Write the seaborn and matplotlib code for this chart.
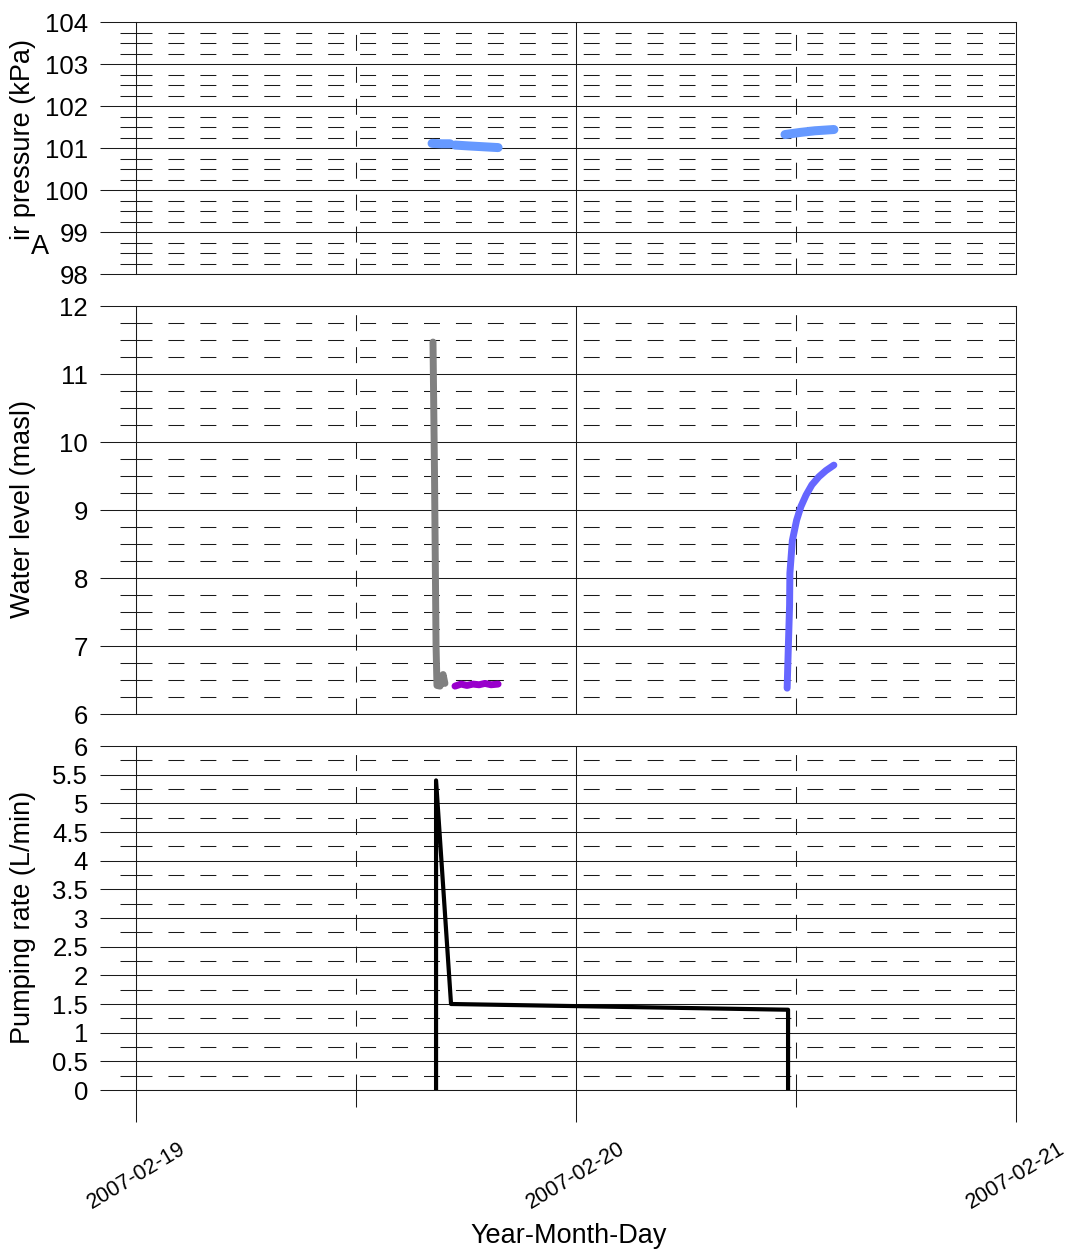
import numpy as np
import pandas as pd
import matplotlib
matplotlib.use("Agg")
import matplotlib.pyplot as plt
import matplotlib.dates as mdates
from matplotlib.ticker import MultipleLocator, FuncFormatter
import seaborn as sns

# ---- Air pressure (kPa) ----
pressure_a_time = ["2007-02-19 16:09", "2007-02-19 16:40", "2007-02-19 17:08"]
pressure_a_kpa = [101.11, 101.10, 101.10]
pressure_b_time = ["2007-02-19 17:24", "2007-02-19 18:07", "2007-02-19 18:56", "2007-02-19 19:45"]
pressure_b_kpa = [101.07, 101.05, 101.03, 101.01]
pressure_c_time = ["2007-02-20 11:24", "2007-02-20 12:13", "2007-02-20 13:02", "2007-02-20 14:04"]
pressure_c_kpa = [101.32, 101.37, 101.41, 101.44]

# ---- Water level (masl) ----
drawdown_time = ["2007-02-19 16:12", "2007-02-19 16:17", "2007-02-19 16:22", "2007-02-19 16:25",
                 "2007-02-19 16:35", "2007-02-19 16:45", "2007-02-19 16:51"]
drawdown_level = [11.47, 9.50, 7.00, 6.42, 6.41, 6.58, 6.45]
pumping_time = ["2007-02-19 17:24", "2007-02-19 17:44", "2007-02-19 18:03", "2007-02-19 18:23",
                "2007-02-19 18:43", "2007-02-19 19:02", "2007-02-19 19:22", "2007-02-19 19:45"]
pumping_level = [6.41, 6.44, 6.42, 6.44, 6.43, 6.45, 6.43, 6.44]
recovery_time = ["2007-02-20 11:31", "2007-02-20 11:35", "2007-02-20 11:39", "2007-02-20 11:40",
                 "2007-02-20 11:48", "2007-02-20 12:02", "2007-02-20 12:16", "2007-02-20 12:33",
                 "2007-02-20 12:52", "2007-02-20 13:15", "2007-02-20 13:38", "2007-02-20 14:04"]
recovery_level = [6.38, 7.00, 7.60, 8.07, 8.55, 8.85, 9.05, 9.22, 9.37, 9.49, 9.58, 9.66]

# ---- Pumping rate (L/min) ----
pump_time = ["2007-02-19 16:22", "2007-02-19 16:22", "2007-02-19 17:11",
             "2007-02-20 11:34", "2007-02-20 11:34"]
pump_rate = [0.0, 5.4, 1.5, 1.4, 0.0]

x_start, x_end = "2007-02-19", "2007-02-21"

sns.set_style("ticks")
plt.rcParams["font.family"] = ["Liberation Sans", "DejaVu Sans"]
plt.rcParams["lines.scale_dashes"] = False
for key in ["text.color", "axes.labelcolor", "xtick.color", "ytick.color"]:
    plt.rcParams[key] = "black"

W, H = 1069, 1250
fig = plt.figure(figsize=(W / 100, H / 100), dpi=100)

def px_axes(top_px, bottom_px):
    left, right = 136, 1016
    return fig.add_axes([left / W, 1 - bottom_px / H, (right - left) / W, (bottom_px - top_px) / H])

ax_p = px_axes(22, 274)
ax_w = px_axes(306, 714)
ax_q = px_axes(746, 1090)

grid_col = "#1a1a1a"
dash = (0, (11.5, 11.5))
tick_fs = 18.5
label_fs = 19.5

def style_axes(ax, ymin, ymax, major, show_x):
    ax.set_xlim(pd.Timestamp(x_start), pd.Timestamp(x_end))
    ax.set_ylim(ymin, ymax)
    ax.xaxis.set_major_locator(mdates.DayLocator())
    ax.xaxis.set_minor_locator(mdates.HourLocator(byhour=[12]))
    ax.xaxis.set_major_formatter(mdates.DateFormatter("%Y-%m-%d"))
    ax.yaxis.set_major_locator(MultipleLocator(major))
    ax.yaxis.set_minor_locator(MultipleLocator(0.25))
    ax.yaxis.set_major_formatter(FuncFormatter(lambda v, p: f"{v:g}"))
    ax.set_axisbelow(True)
    ax.grid(which="major", color=grid_col, lw=0.75, ls="-")
    ax.grid(which="minor", color=grid_col, lw=0.75, ls=dash)
    for s in ax.spines.values():
        s.set_color(grid_col)
        s.set_linewidth(0.75)
    ax.tick_params(axis="y", which="major", length=26, width=0.75, color=grid_col,
                   labelsize=tick_fs, labelcolor="black", pad=8.5, direction="out")
    ax.tick_params(axis="y", which="minor", length=11.5, width=0.75, color=grid_col, direction="out")
    if show_x:
        ax.tick_params(axis="x", which="major", length=23, width=0.75, color=grid_col,
                       labelsize=15.5, labelcolor="black", pad=12, direction="out")
        ax.tick_params(axis="x", which="minor", length=12, width=0.75, color=grid_col, direction="out")
        for lab in ax.get_xticklabels():
            lab.set_rotation(31)
            lab.set_ha("center")
    else:
        ax.tick_params(axis="x", which="both", length=0, labelbottom=False)
    ax.set_xlabel("")
    ax.set_ylabel("")

def draw(ax, times, values, color, lw):
    sns.lineplot(x=pd.to_datetime(times), y=values, ax=ax, color=color, lw=lw,
                 sort=False, estimator=None, solid_capstyle="round", solid_joinstyle="round")

# Air pressure panel
draw(ax_p, pressure_a_time, pressure_a_kpa, "#6699ff", 6.5)
draw(ax_p, pressure_b_time, pressure_b_kpa, "#6699ff", 6.5)
draw(ax_p, pressure_c_time, pressure_c_kpa, "#6699ff", 6.5)
style_axes(ax_p, 98, 104, 1, False)

# Water level panel
draw(ax_w, drawdown_time, drawdown_level, "#808080", 5)
draw(ax_w, pumping_time, pumping_level, "#9900cc", 5)
draw(ax_w, recovery_time, recovery_level, "#6666ff", 5)
style_axes(ax_w, 6, 12, 1, False)

# Pumping rate panel
draw(ax_q, pump_time, pump_rate, "black", 3)
style_axes(ax_q, 0, 6, 0.5, True)

# Axis titles
fig.text(23 / W, 1 - 139 / H, "ir pressure (kPa)", rotation=90, ha="center", va="center",
         fontsize=label_fs)
fig.text(40 / W, 1 - 247 / H, "A", ha="center", va="center", fontsize=label_fs)
fig.text(23 / W, 1 - 509 / H, "Water level (masl)", rotation=90, ha="center", va="center",
         fontsize=label_fs)
fig.text(23 / W, 1 - 917 / H, "Pumping rate (L/min)", rotation=90, ha="center", va="center",
         fontsize=label_fs)
fig.text(569 / W, 1 - 1236 / H, "Year-Month-Day", ha="center", va="center", fontsize=label_fs)

fig.savefig("out.png", dpi=100)
